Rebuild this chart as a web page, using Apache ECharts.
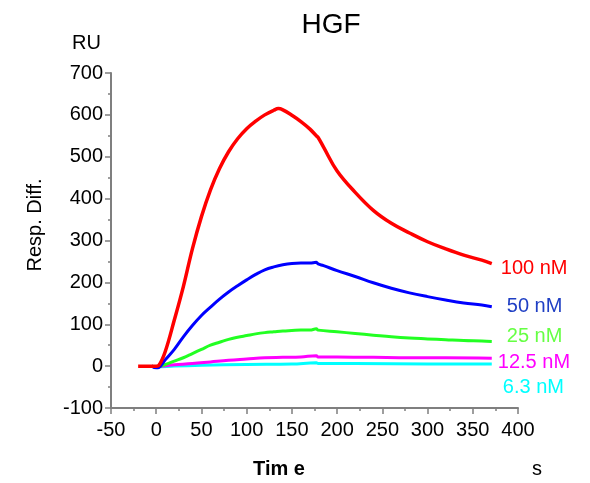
<!DOCTYPE html>
<html>
<head>
<meta charset="utf-8">
<script src="https://cdn.jsdelivr.net/npm/echarts@6/dist/echarts.min.js"></script>
<style>html,body{margin:0;padding:0;background:#fff}#c{width:590px;height:483px}</style>
</head>
<body>
<div id="c"></div>
<script>
var seriesNames = ['100 nM', '50 nM', '25 nM', '12.5 nM', '6.3 nM'];
var redT = [-20,-10,0,3,10,20,30,40,50,60,70,80,90,100,110,120,130,135,140,150,160,170,177,179,185,200,220,240,260,280,300,320,340,360,371];
var redV = [0,0,0,2,35,110,190,280,357,421,472,512,543,567,585,600,611,615,612,599,584,566,550,546,523,466,415,372,341,318,297,280,265,253,245];
var blueT = [-5,0,3,10,20,30,40,50,60,70,80,90,100,110,120,130,140,150,160,170,177,179,185,200,220,240,260,280,300,320,340,360,371];
var blueV = [0,-4,-3,15,40,70,97,121,141,160,177,192,206,219,230,237,242,245,246,246,248,244,240,228,214,199,186,175,166,158,151,146,142];
var greenT = [-5,0,10,20,30,40,50,60,70,80,90,100,110,120,130,140,150,160,170,177,179,200,220,240,260,280,300,320,340,360,371];
var greenV = [0,-2,4,12,20,30,40,50,57,64,69,73,77,80,82,84,85,86,86,89,86,82,78,74,70,67,65,63,61,60,59];
var magT = [-5,0,10,20,40,60,80,100,120,140,160,177,179,200,240,280,320,371];
var magV = [0,-2,1,3,6,10,14,17,20,21,22,25,22,22,21,20,20,19];
var cyanT = [-5,0,20,50,100,150,177,179,220,300,371];
var cyanV = [0,-2,0,2,4,5,8,6,6,5,5];
var xTicks = {min: -50, max: 400, step: 50};
var yTicks = {min: -100, max: 700, step: 100};

function pairs(t, v) { return t.map(function (x, i) { return [x, v[i]]; }); }

var lineColors = ['#ff0000', '#0000ff', '#22ff22', '#ff00ff', '#00ffff'];
var labelColors = ['#ff0000', '#1f3fc4', '#66ff44', '#ff00ff', '#00ffff'];
var labelOffsets = [[4, 5], [10, 0], [10, -5], [1, 4], [6, 23]];
var dataSets = [pairs(redT, redV), pairs(blueT, blueV), pairs(greenT, greenV), pairs(magT, magV), pairs(cyanT, cyanV)];

var FONT = 'Liberation Sans, Arial, sans-serif';
var chart = echarts.init(document.getElementById('c'));
var axisCommon = {
  axisLine: {show: true, onZero: false, lineStyle: {color: '#7f7f7f', width: 2}},
  axisTick: {show: true, inside: false, length: 6, lineStyle: {color: '#7f7f7f', width: 1.5}},
  minorTick: {show: true, splitNumber: 2, length: 3, lineStyle: {color: '#7f7f7f', width: 1.5}},
  splitLine: {show: false},
  minorSplitLine: {show: false}
};
chart.setOption({
  animation: false,
  title: {text: 'HGF', left: 326, top: 6, textAlign: 'center',
    textStyle: {fontFamily: FONT, fontSize: 28, fontWeight: 'normal', color: '#000'}},
  grid: {left: 111, right: 72, top: 73, bottom: 75},
  xAxis: Object.assign({
    type: 'value', min: xTicks.min, max: xTicks.max, interval: xTicks.step,
    axisLabel: {margin: 12, fontFamily: FONT, fontSize: 20, color: '#000'}
  }, axisCommon),
  yAxis: Object.assign({
    type: 'value', min: yTicks.min, max: yTicks.max, interval: yTicks.step,
    axisLabel: {margin: 8, fontFamily: FONT, fontSize: 20, color: '#000'}
  }, axisCommon),
  series: dataSets.map(function (d, i) {
    return {
      name: seriesNames[i], type: 'line', data: d, showSymbol: false, symbol: 'none',
      smooth: 0.4,
      lineStyle: {color: lineColors[i], width: i === 0 ? 3.5 : 3},
      z: 10 - i,
      endLabel: {show: true, formatter: seriesNames[i], color: labelColors[i],
        fontFamily: FONT, fontSize: 20, offset: labelOffsets[i], distance: 5}
    };
  }),
  graphic: [
    {type: 'text', left: 72, top: 33, style: {text: 'RU', font: '20px ' + FONT, fill: '#000'}},
    {type: 'text', x: 35, y: 225, rotation: Math.PI / 2,
      style: {text: 'Resp. Diff.', font: '20px ' + FONT, fill: '#000', align: 'center', verticalAlign: 'middle'}},
    {type: 'text', x: 279, y: 469,
      style: {text: 'Tim e', font: 'bold 20px ' + FONT, fill: '#000', align: 'center', verticalAlign: 'middle'}},
    {type: 'text', x: 537, y: 469,
      style: {text: 's', font: '20px ' + FONT, fill: '#000', align: 'center', verticalAlign: 'middle'}}
  ]
});
</script>
</body>
</html>
